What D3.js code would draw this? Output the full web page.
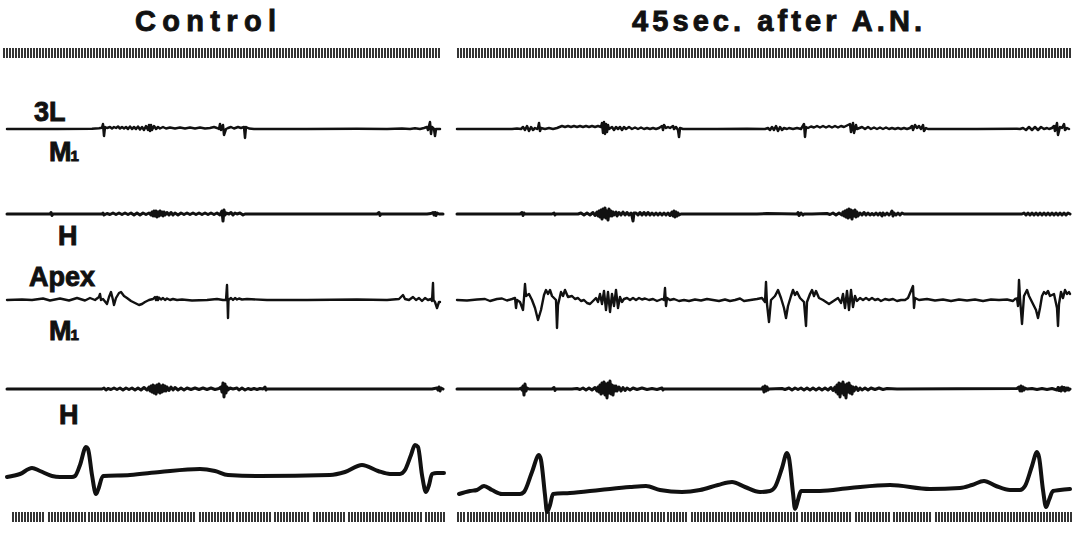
<!DOCTYPE html>
<html><head><meta charset="utf-8">
<script src="https://cdn.jsdelivr.net/npm/d3@7"></script>
<style>html,body{margin:0;padding:0;background:#fff}svg{display:block}</style>
</head><body><svg id="c" width="1076" height="533"></svg>
<script>
// ---------------- DATA ----------------
const panelTitles = ["Control", "45sec. after A.N."];
const rowLabels = ["3L", "M1", "H", "Apex", "M1", "H"];
const panelDurations = [436, 613]; // time units per panel

// Control panel traces: [time, amplitude]
const ctrl_3L_M1 = [[0,0],[50,0],[85,0.3],[92,0.8],[95,1.2],[96,5],[97,-7],[98,2],[100,1],[103,2],[105,0.5],[107,2],[109,1],[111,2.5],[113,0.5],[115,2],[117,0.5],[119,2],[121,0],[123,2.5],[125,0],[127,2],[129,0],[131,2.5],[133,-0.5],[135,2],[137,-1],[139,3],[141,-1],[142,4],[143,-2],[144,4],[145,-1],[147,3],[149,0],[151,2],[153,0.5],[156,2],[159,0.5],[163,1.5],[168,0.5],[173,1.5],[178,0.5],[183,1.5],[188,0.5],[193,1.5],[198,0.5],[203,1],[207,2],[210,1],[212,0],[213,5],[214,-1],[216,4],[217,-6],[219,0],[221,1],[224,2],[227,0.5],[231,2],[234,1],[237,2],[238,-9],[239,2],[242,0.5],[247,0],[300,0],[350,0.3],[380,0],[395,0.5],[403,0],[408,0.8],[413,0],[417,1],[420,2],[421,-1],[423,7],[424,-5],[425,2],[427,0],[428,-7],[429,0],[433,0]];
const ctrl_3L_H = [[0,0],[43,0],[44,1.5],[45,-1.5],[46,0],[95,0],[96,1],[97,-1],[100,0.5],[103,-0.5],[106,1],[109,-0.5],[112,1],[115,-0.5],[118,1],[121,-0.5],[124,1],[127,-1],[130,1],[133,-1],[136,1],[139,-0.5],[142,1],[144,-1],[145,2],[146,-2],[147,3],[148,-2],[149,3],[150,-3],[151,2],[152,-2],[153,3],[154,-1],[155,2],[156,-2],[157,2],[158,-1],[160,1.5],[162,-1],[164,1.5],[166,-1],[168,1],[171,-1],[174,1],[177,-0.5],[180,1],[183,-0.5],[186,1],[189,-0.5],[192,1],[195,-0.5],[198,1],[201,-0.5],[204,1],[207,-0.5],[210,1],[213,-1],[215,3],[216,-7],[217,4],[218,-1],[219,1],[222,0],[224,1.5],[226,-1],[228,1],[230,0],[233,1],[236,-1],[238,0],[245,0],[300,0],[370,0],[372,1.5],[373,-1.5],[374,0],[420,0],[424,0.5],[426,1.5],[427,-1],[428,1.5],[429,-1.5],[430,1],[432,0],[436,0]];
const ctrl_apex_M1 = [[0,0],[15,0.5],[25,0],[36,1.5],[43,-0.5],[53,1.5],[62,-0.5],[70,2],[78,-0.5],[83,2],[88,0],[92,3],[93,6],[94,0],[96,1],[100,-4],[102,3],[104,8],[106,0],[107,-5],[109,2],[112,7],[114,8],[117,4],[120,2],[124,-1],[128,-3],[132,-5],[135,-4],[138,-2],[142,0],[146,1],[148,3],[149,0],[150,3],[151,0],[152,2.5],[154,0.5],[156,2],[158,0],[160,1.5],[163,0],[166,1],[170,0],[175,0.5],[185,-0.5],[200,0],[210,1],[216,0],[219,0],[220,15],[220.5,0],[221,-18],[221.5,0],[224,2],[226,0],[228,2],[230,0.5],[232,1.5],[235,0.5],[240,1],[260,0],[300,0],[350,0.5],[380,0],[392,1],[396,5],[398,1],[402,0],[406,3],[409,0],[412,2],[415,-1],[418,2],[421,0],[424,1],[425,-1],[426,17],[426.5,0],[428,-2],[430,-8],[432,-2],[433,-2]];
const ctrl_apex_H = [[0,0],[95,0],[97,1],[99,-1],[101,0.5],[104,-0.5],[107,1],[110,-0.5],[113,1],[116,-1],[119,1],[122,-0.5],[125,1],[128,-1],[131,1],[134,-1],[137,1.5],[140,-1],[142,2],[143,-2],[144,3],[145,-3],[146,4],[147,-4],[148,3],[149,-5],[150,4],[151,-3],[152,5],[153,-4],[154,3],[155,-3],[156,4],[157,-2],[158,3],[159,-2],[160,2],[162,-1.5],[164,2],[166,-1],[168,1.5],[171,-1],[174,1],[177,-1],[180,1],[184,-0.5],[188,1],[192,-0.5],[196,1],[200,-0.5],[204,1],[208,-0.5],[212,0.5],[214,2],[215,-3],[216,6],[217,-8],[218,5],[219,-4],[220,2],[221,-1],[223,1],[226,0],[230,1],[232,-1],[235,1],[238,-1],[241,0.5],[244,-0.5],[247,0.5],[250,-0.5],[253,0.5],[256,0],[258,2],[259,-1],[260,0],[300,0],[350,0],[400,0],[425,0],[430,1],[431,-1],[432,2],[433,-2],[434,1],[436,0]];
const ctrl_ecg = [[0,-1],[13,2],[25,8],[33,5],[45,0],[53,-1],[65,-1],[68,0],[73,11],[79,29],[81,27],[85,1],[89,-18],[91,-14],[96,0],[123,1],[153,4],[193,7],[208,5],[221,1],[253,0],[323,1],[338,4],[355,11],[371,5],[383,2],[393,2],[398,6],[404,21],[408,31],[411,29],[415,1],[419,-16],[422,-9],[425,2],[430,3],[437,3]];

// 45 sec after A.N. panel traces
const an_3L_M1 = [[0,0],[55,0],[60,0.5],[64,0],[66,2],[68,-1],[70,3],[72,-2],[74,2],[76,-1],[78,1],[80,0],[81,1],[82,6],[83,-2],[84,1],[88,0],[92,1],[96,0],[100,1],[105,3],[108,2],[111,3],[114,2],[117,3],[120,2],[123,3],[126,2],[129,3],[132,2],[135,3],[138,2],[141,3],[144,2],[145,6],[146,-4],[147,7],[148,-5],[149,5],[150,-3],[151,4],[152,0],[155,2],[157,-1],[159,2],[161,0],[163,2],[165,-1],[167,2],[169,0],[172,2],[175,0],[178,1.5],[181,0],[184,1.5],[187,0],[190,1],[193,0],[196,1],[199,0],[202,1],[205,3],[206,-1],[207,4],[209,1],[211,2],[213,1],[216,3],[217,0],[219,2],[221,-1],[222,-8],[223,1],[226,0],[260,0],[290,0.3],[308,0],[311,1],[313,-1],[315,2],[317,-1],[319,3],[321,-2],[323,2],[325,-1],[327,1],[330,0],[332,1],[336,0],[340,1],[344,0],[347,5],[348,-8],[349,2],[351,1],[354,2.5],[357,1.5],[360,3],[363,1.5],[366,3],[369,1.5],[372,3],[375,1.5],[378,3],[381,1.5],[384,3],[387,2],[393,5],[394,-3],[396,6],[397,-4],[399,4],[400,0],[405,2],[408,0],[411,2],[414,0],[417,1.5],[420,0],[423,1.5],[426,0],[429,1.5],[432,0],[435,1],[438,0],[441,1],[444,0],[447,1],[450,0],[453,1],[455,3],[456,-1],[458,4],[460,1],[462,3],[464,0],[466,4],[467,-2],[469,1],[471,0],[520,0],[560,0.3],[563,0],[566,1],[569,-1],[572,2],[575,-1],[578,2],[581,-1],[584,2],[587,0],[590,1],[592,0],[595,1],[597,3],[598,-2],[600,6],[601,-6],[603,2],[605,1],[607,5],[608,-1],[610,1],[612,0]];
const an_3L_H = [[0,0],[63,0],[65,1.5],[66,-1.5],[67,1],[68,0],[95,0],[97,1],[98,-1],[99,0],[121,0],[124,1],[127,-1],[130,1],[133,-1],[136,1.5],[138,-1.5],[140,2],[141,-2],[142,3],[143,-3],[144,4],[145,-5],[146,5],[147,-3],[148,6],[149,-4],[150,3],[151,-6],[152,5],[153,-2],[154,3],[155,-2],[156,2],[157,-1],[159,2],[160,-2],[162,1.5],[164,-1],[166,2],[168,-1],[170,1.5],[172,-1],[174,1],[175,-2],[176,-7],[177,1],[179,1],[181,-1],[183,1.5],[185,-1],[187,1.5],[189,-1],[191,1.5],[193,-1],[195,1],[197,-1],[199,1],[201,-1],[203,1],[205,-1],[207,1],[209,-1],[211,1],[213,-1.5],[215,2],[216,-2],[217,3],[218,-3],[219,2],[220,-2],[221,1],[222,-1],[224,0],[230,0],[300,0],[310,0.5],[340,0],[341,1.5],[342,-1.5],[344,1],[346,-1],[347,0],[355,0],[370,0.5],[373,-0.5],[376,1],[379,-1],[382,1],[385,-1],[386,2],[387,-2],[388,3],[389,-3],[390,4],[391,-4],[392,5],[393,-3],[394,4],[395,-5],[396,3],[397,-2],[398,4],[399,-3],[400,2],[401,-2],[403,1],[405,-1],[407,1.5],[409,-1],[411,1],[413,-1],[415,0.5],[417,-1],[419,1],[421,-1],[423,1],[425,-2],[426,1],[428,-1],[430,1],[432,-1],[434,1],[435,3],[436,-2],[437,1],[439,-1],[441,1],[443,-1],[445,1],[447,0],[500,0],[565,0],[567,1],[569,-1],[571,1],[573,-1],[575,1],[577,-1],[579,1],[581,-1],[583,1],[585,-1],[587,1],[589,-1],[591,1],[593,-1],[595,1],[597,-1],[599,1],[601,-1],[603,1],[605,-1],[607,1],[609,-1],[611,1],[613,0]];
const an_apex_M1 = [[0,0],[10,-0.5],[20,0.5],[28,1],[33,-1],[40,1],[45,1.5],[50,-0.5],[55,1],[58,2],[59,-8],[60,0],[63,-2],[66,-10],[67,2],[68,16],[69,4],[72,6],[75,0],[78,-8],[81,-20],[84,-10],[87,5],[89,10],[91,6],[93,10],[95,4],[99,0],[100,-28],[101,-5],[104,8],[106,4],[108,10],[111,3],[115,4],[118,1],[121,2],[124,-1],[127,0],[130,-3],[133,-4],[136,-1],[139,2],[141,-2],[143,6],[145,-4],[147,9],[149,-10],[151,8],[153,-12],[155,6],[157,-6],[159,10],[161,-8],[163,3],[165,-2],[167,1],[170,2],[173,0],[176,2],[179,0],[182,2],[185,0.5],[188,1.5],[192,0],[196,1],[200,-1],[205,1],[207,0],[208,12],[209,-6],[210,2],[213,0],[217,1],[222,-1],[227,0],[232,-1],[238,0.5],[244,-0.5],[250,1],[256,0],[262,-1],[268,0.5],[273,-1],[278,0],[283,1.5],[287,-1],[300,1],[305,2],[308,-2],[309,18],[310,-4],[312,-22],[314,0],[318,4],[321,10],[324,2],[327,-8],[329,-18],[331,-6],[334,4],[336,10],[338,5],[340,8],[343,2],[347,-2],[349,-26],[350,-2],[353,6],[355,10],[357,4],[359,9],[362,2],[366,0],[369,-2],[372,-4],[375,-2],[378,0],[381,2],[384,-3],[386,6],[388,-8],[390,9],[392,-10],[394,10],[396,-7],[398,4],[400,-1],[403,2],[406,0],[409,2],[412,0],[415,2],[418,0],[421,1],[424,-1],[428,1],[432,0],[436,1],[440,-1],[444,0],[448,0],[451,2],[456,14],[457,-8],[458,2],[462,0],[470,1],[478,-0.5],[486,0.5],[494,-1],[502,0.5],[510,-0.5],[518,0.5],[526,-1],[534,0.5],[542,0],[550,0.5],[556,-1],[558,1],[560,1.5],[561,-6],[562,20],[563,2],[565,-24],[567,4],[570,10],[572,4],[576,-4],[579,-10],[581,-18],[583,-8],[585,4],[587,8],[589,6],[591,9],[593,4],[597,6],[600,-8],[601,-26],[602,-4],[604,8],[606,2],[608,10],[610,6],[612,8],[613,6]];
const an_apex_H = [[0,0],[62,0],[64,1],[65,-1],[66,3],[67,-6],[68,5],[69,-2],[70,1],[72,0],[95,0],[97,1.5],[98,-1.5],[99,0],[115,0],[120,0.5],[123,-0.5],[126,1],[129,-1],[132,1],[135,-1],[138,1.5],[140,-2],[141,2],[142,-3],[143,4],[144,-5],[145,6],[146,-4],[147,7],[148,-6],[149,5],[150,-9],[151,6],[152,-4],[153,8],[154,-5],[155,4],[156,-6],[157,3],[158,-2],[159,3],[160,-2],[162,2],[164,-2],[166,1.5],[168,-1.5],[170,1],[173,-1],[176,1],[180,-0.5],[185,1],[190,-0.5],[195,0.5],[200,-0.5],[205,1],[206,-1],[207,0],[305,0],[306,2],[307,-3],[308,3],[309,-2],[310,2],[311,-1],[312,0],[325,0.5],[328,-0.5],[332,1],[335,-1],[338,1],[341,-0.5],[344,1],[347,-1],[350,1],[353,-1],[356,1],[359,-1],[362,1],[365,-1],[368,1],[371,-1],[374,1.5],[376,-1.5],[378,2],[379,-3],[380,4],[381,-5],[382,6],[383,-8],[384,5],[385,-4],[386,7],[387,-6],[388,4],[389,-9],[390,5],[391,-3],[392,6],[393,-4],[394,3],[395,-5],[396,2],[397,-2],[399,2],[401,-1.5],[403,1],[405,-1],[408,1],[411,-1],[414,1],[418,-0.5],[422,1],[426,-0.5],[430,0.5],[440,0],[560,0.5],[562,2],[563,-2],[564,3],[565,-2],[566,2],[567,-1],[568,1],[570,0],[575,0.5],[580,-0.5],[585,0.5],[590,-0.5],[595,0.5],[600,-1],[601,1.5],[602,-1.5],[603,1],[604,-2],[605,2],[606,-1],[607,1.5],[608,-2],[609,1],[610,-1],[611,1],[612,-1],[613,0]];
const an_ecg = [[2,-6],[13,-3],[20,-2],[27,2],[35,-2],[45,-6],[63,-6],[67,-4],[75,16],[82,33],[84,28],[88,-7],[90,-24],[93,-17],[96,-6],[113,-5],[143,-2],[173,1],[189,2],[203,-2],[225,-4],[243,-2],[261,3],[275,6],[288,1],[303,-4],[313,-3],[318,1],[325,20],[330,35],[332,30],[336,-5],[338,-21],[341,-12],[344,-3],[363,-3],[393,0],[433,3],[473,-1],[503,0],[515,3],[527,7],[539,2],[553,-2],[563,-2],[568,2],[575,22],[580,36],[582,31],[586,-2],[589,-19],[592,-12],[596,-3],[603,-2],[613,-1]];

// Time-marker rows (time units): spacing and tick-bearing segments
const markStep = 3;
const topMarkSegments = [[[-3, 434]], [[1, 613]]];
const bottomMarkSegments = [
  [[6,38],[42,78],[82,189],[193,226],[230,264],[268,303],[307,338],[342,414],[419,438]],
  [[1,7],[11,191],[195,207],[211,231],[235,341],[345,395],[399,433],[437,475],[479,614]]
];

// ---------------- LAYOUT ----------------
const svg = d3.select("#c");
svg.append("rect").attr("width",1076).attr("height",533).attr("fill","#fff");
const ink = "#111";
const panelRanges = [[7, 443], [457, 1070]];
const xs = panelRanges.map((r,i) => d3.scaleLinear().domain([0, panelDurations[i]]).range(r));
const rowBase = {m3L:129, h3L:214, mApex:300, hApex:389, ecg:[476, 488]};
const yRow = base => d3.scaleLinear().domain([-1, 1]).range([base + 1, base - 1]);

const traces = [
  [ctrl_3L_M1, an_3L_M1, "m3L", 2.5],
  [ctrl_3L_H, an_3L_H, "h3L", 3],
  [ctrl_apex_M1, an_apex_M1, "mApex", 2.4],
  [ctrl_apex_H, an_apex_H, "hApex", 3],
  [ctrl_ecg, an_ecg, "ecg", 4]
];
traces.forEach(([a, b, key, sw]) => {
  [a, b].forEach((data, p) => {
    const base = key === "ecg" ? rowBase.ecg[p] : rowBase[key];
    const y = yRow(base);
    const line = d3.line().x(d => xs[p](d[0])).y(d => y(d[1]))
      .curve(key === "ecg" ? d3.curveMonotoneX : d3.curveLinear);
    svg.append("path").attr("d", line(data)).attr("fill","none")
      .attr("stroke", ink).attr("stroke-width", sw).attr("stroke-linejoin","round").attr("stroke-linecap","round");
  });
});

// time markers
function drawMarks(segs, p, y0, y1) {
  const g = svg.append("g");
  segs.forEach(([s,e]) => {
    g.selectAll(null).data(d3.range(s, e + 0.01, markStep)).enter().append("line")
      .attr("x1", d => xs[p](d)).attr("x2", d => xs[p](d))
      .attr("y1", y0).attr("y2", y1).attr("stroke", ink).attr("stroke-width", 1.7);
  });
}
topMarkSegments.forEach((segs, p) => drawMarks(segs, p, 48, 58));
bottomMarkSegments.forEach((segs, p) => drawMarks(segs, p, 512, 522));

// titles
const font = "'Liberation Sans', Arial, Helvetica, sans-serif";
function title(txt, x, len) {
  svg.append("text").attr("x",x).attr("y",31).attr("textLength",len).attr("lengthAdjust","spacing")
    .attr("font-family",font).attr("font-weight","bold").attr("font-size",29)
    .attr("fill",ink).attr("stroke",ink).attr("stroke-width",0.9).text(txt);
}
title(panelTitles[0], 135, 141);
title(panelTitles[1], 632, 290);

// row labels
function label(txt, x, y) {
  const t = svg.append("text").attr("x",x).attr("y",y).attr("font-family",font)
    .attr("font-weight","bold").attr("font-size",27).attr("fill",ink)
    .attr("stroke",ink).attr("stroke-width",0.9);
  if (txt === "M1") {
    t.append("tspan").text("M");
    t.append("tspan").attr("font-size",15).attr("dx",-1).text("1");
  } else t.text(txt);
}
label(rowLabels[0], 34, 121);
label(rowLabels[1], 49, 161);
label(rowLabels[2], 58, 245);
label(rowLabels[3], 29, 286);
label(rowLabels[4], 49, 340);
label(rowLabels[5], 59, 424);
</script></body></html>
